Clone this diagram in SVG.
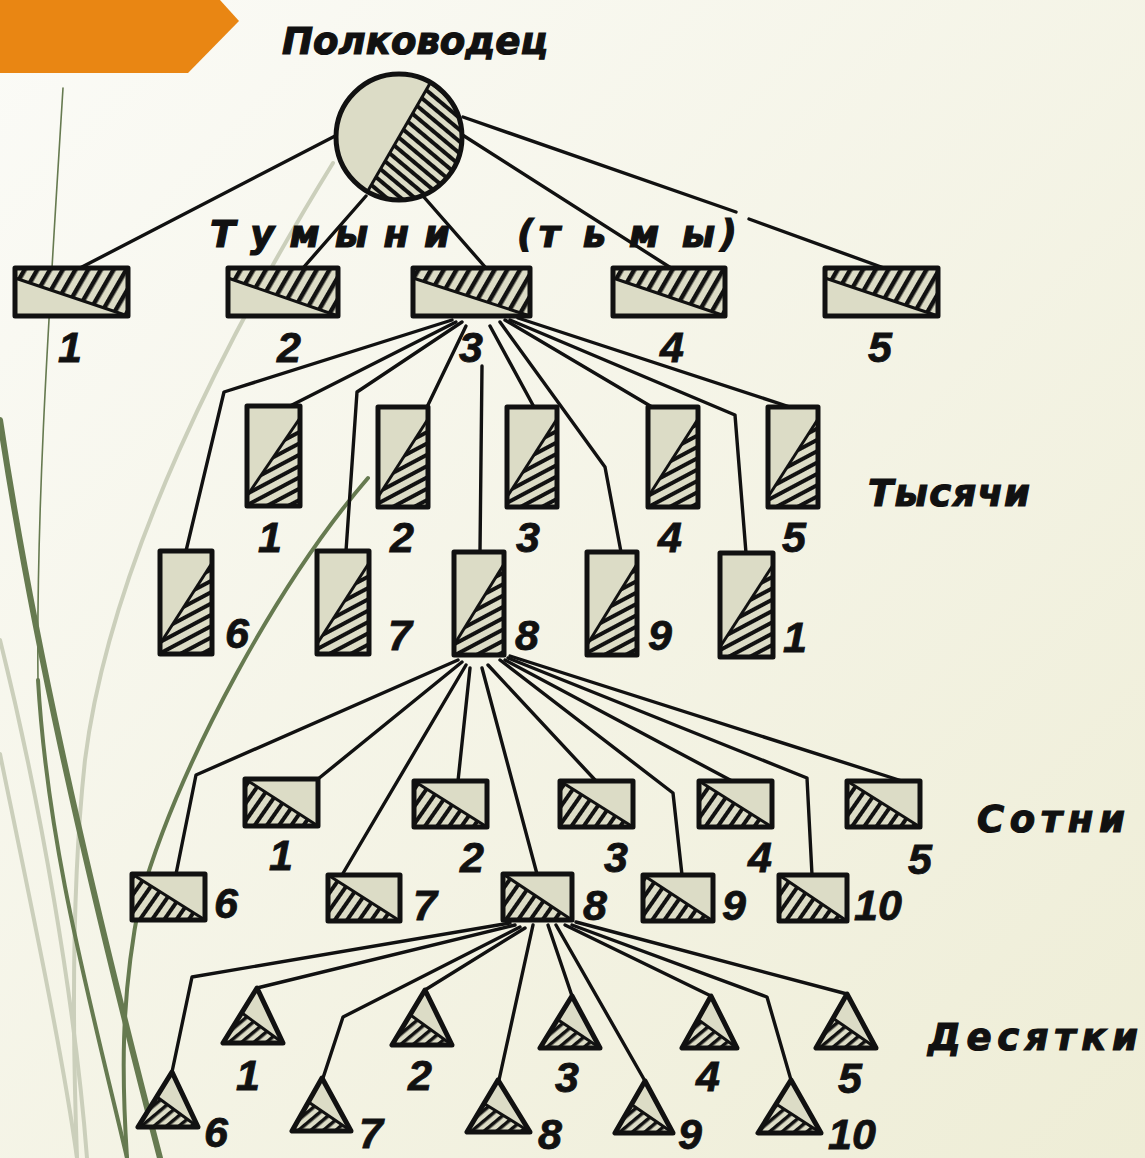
<svg xmlns="http://www.w3.org/2000/svg" width="1145" height="1158" viewBox="0 0 1145 1158">
<defs>
<linearGradient id="bg" x1="0" y1="0" x2="1" y2="1">
<stop offset="0" stop-color="#fbfbf7"/>
<stop offset="1" stop-color="#eeedd6"/>
</linearGradient>
<pattern id="hT" width="11" height="11" patternUnits="userSpaceOnUse" patternTransform="rotate(-60)"><rect width="11" height="11" fill="#dcdcc6"/><rect width="11" height="4.5" fill="#111"/></pattern>
<pattern id="hK" width="10" height="10" patternUnits="userSpaceOnUse" patternTransform="rotate(-28)"><rect width="10" height="10" fill="#dcdcc6"/><rect width="10" height="4" fill="#111"/></pattern>
<pattern id="hS" width="10" height="10" patternUnits="userSpaceOnUse" patternTransform="rotate(-55)"><rect width="10" height="10" fill="#dcdcc6"/><rect width="10" height="4" fill="#111"/></pattern>
<pattern id="hC" width="9" height="9" patternUnits="userSpaceOnUse" patternTransform="rotate(40)"><rect width="9" height="9" fill="#dcdcc6"/><rect width="9" height="4" fill="#111"/></pattern>
<pattern id="hD" width="8" height="8" patternUnits="userSpaceOnUse" patternTransform="rotate(-40)"><rect width="8" height="8" fill="#dcdcc6"/><rect width="8" height="3.5" fill="#111"/></pattern>
<style>
.lt{fill:#dcdcc6;stroke:none}
.bd{fill:none;stroke:#111;stroke-width:5;stroke-linejoin:round}
.dv{stroke:#111;stroke-width:3}
.cn polyline,.cn line{fill:none;stroke:#111;stroke-width:3.4;stroke-linejoin:round;stroke-linecap:round}
.t{font-family:"Liberation Sans","DejaVu Sans",sans-serif;font-weight:bold;font-style:italic;fill:#111;stroke:#111;stroke-width:0.8}
.n{font-size:43px;text-anchor:middle}
.lbl{font-family:"DejaVu Sans","Liberation Sans",sans-serif;font-size:37px;stroke-width:1.2}
.gd{fill:none;stroke:#667a50;stroke-linecap:round}
.gl{fill:none;stroke:#cbcfbb;stroke-linecap:round}
</style>
</defs>

<rect width="1145" height="1158" fill="url(#bg)"/>
<polygon points="0,0 220,0 239,21 188,73 0,73" fill="#e98613"/>

<g id="decor">
<path class="gl" stroke-width="4" d="M333,163 C230,330 110,560 85,760 C72,880 72,1020 77,1158"/>
<path class="gl" stroke-width="4" d="M0,640 C40,800 75,1000 87,1158"/>
<path class="gl" stroke-width="4" d="M0,754 C30,900 62,1050 77,1158"/>
<path class="gd" stroke-width="1.6" d="M63,88 C50,300 36,500 38,680"/>
<path class="gd" stroke-width="4" d="M38,680 C48,850 90,1000 127,1158"/>
<path class="gd" stroke-width="6" d="M0,420 C30,620 80,850 160,1158"/>
<path class="gd" stroke-width="4" d="M368,478 C280,580 180,760 140,900 C120,1000 122,1080 127,1158"/>
</g>

<g id="connectors" class="cn">
<line x1="337" y1="135" x2="80" y2="268"/>
<line x1="366" y1="196" x2="303" y2="268"/>
<line x1="423" y1="196" x2="486" y2="268"/>
<line x1="461" y1="134" x2="671" y2="268"/>
<line x1="463" y1="117" x2="736" y2="212"/>
<line x1="749" y1="219" x2="884" y2="268"/>

<polyline points="452,320 224,392 186,551"/>
<line x1="456" y1="322" x2="290" y2="406"/>
<polyline points="462,322 357,392 346,551"/>
<line x1="466" y1="326" x2="427" y2="407"/>
<line x1="482" y1="366" x2="480" y2="552"/>
<line x1="490" y1="326" x2="534" y2="407"/>
<polyline points="500,322 605,467 621,552"/>
<line x1="505" y1="320" x2="652" y2="407"/>
<polyline points="510,320 735,415 746,553"/>
<line x1="518" y1="318" x2="790" y2="407"/>

<polyline points="458,660 196,775 176,874"/>
<line x1="462" y1="662" x2="318" y2="779"/>
<line x1="466" y1="665" x2="342" y2="875"/>
<line x1="470" y1="668" x2="458" y2="781"/>
<line x1="482" y1="668" x2="537" y2="874"/>
<line x1="488" y1="665" x2="596" y2="781"/>
<polyline points="500,660 673,793 682,875"/>
<line x1="505" y1="660" x2="732" y2="781"/>
<polyline points="508,658 807,778 812,875"/>
<line x1="510" y1="656" x2="902" y2="781"/>

<polyline points="510,923 192,977 172,1072"/>
<line x1="515" y1="925" x2="257" y2="988"/>
<polyline points="520,927 343,1017 323,1078"/>
<line x1="525" y1="928" x2="425" y2="990"/>
<line x1="533" y1="925" x2="499" y2="1080"/>
<line x1="548" y1="925" x2="572" y2="996"/>
<line x1="556" y1="925" x2="645" y2="1081"/>
<line x1="565" y1="925" x2="711" y2="996"/>
<polyline points="572,925 767,997 791,1080"/>
<line x1="576" y1="922" x2="847" y2="994"/>
</g>

<g id="commander">
<circle cx="399" cy="137" r="63" class="lt"/>
<path d="M430.5,82.4 A63,63 0 0 1 367.5,191.6 Z" fill="url(#hC)"/>
<line x1="430.5" y1="82.4" x2="367.5" y2="191.6" class="dv"/>
<circle cx="399" cy="137" r="63" class="bd"/>
<text class="t lbl" x="282" y="54" textLength="266" lengthAdjust="spacingAndGlyphs">Полководец</text>
</g>

<g id="tumen-label">
<text class="t lbl" x="210" y="247" textLength="240" lengthAdjust="spacing">Т у м ы н и</text>
<text class="t lbl" x="517" y="247" textLength="220" lengthAdjust="spacing">(т ь м ы)</text>
</g>

<g id="tumen-1"><rect x="15" y="268" width="113" height="48" class="lt"/><polygon points="15,268 128,268 128,316 15,278" fill="url(#hT)"/><line x1="15" y1="278" x2="128" y2="316" class="dv"/><rect x="15" y="268" width="113" height="48" class="bd"/><text class="t n" x="70" y="362">1</text></g>
<g id="tumen-2"><rect x="228" y="268" width="110" height="48" class="lt"/><polygon points="228,268 338,268 338,316 228,278" fill="url(#hT)"/><line x1="228" y1="278" x2="338" y2="316" class="dv"/><rect x="228" y="268" width="110" height="48" class="bd"/><text class="t n" x="289" y="362">2</text></g>
<g id="tumen-3"><rect x="413" y="268" width="117" height="48" class="lt"/><polygon points="413,268 530,268 530,316 413,278" fill="url(#hT)"/><line x1="413" y1="278" x2="530" y2="316" class="dv"/><rect x="413" y="268" width="117" height="48" class="bd"/><text class="t n" x="471" y="362">3</text></g>
<g id="tumen-4"><rect x="613" y="268" width="112" height="48" class="lt"/><polygon points="613,268 725,268 725,316 613,278" fill="url(#hT)"/><line x1="613" y1="278" x2="725" y2="316" class="dv"/><rect x="613" y="268" width="112" height="48" class="bd"/><text class="t n" x="672" y="362">4</text></g>
<g id="tumen-5"><rect x="825" y="268" width="113" height="48" class="lt"/><polygon points="825,268 938,268 938,316 825,278" fill="url(#hT)"/><line x1="825" y1="278" x2="938" y2="316" class="dv"/><rect x="825" y="268" width="113" height="48" class="bd"/><text class="t n" x="880" y="362">5</text></g>

<text class="t lbl" x="868" y="506" textLength="162" lengthAdjust="spacing">Тысячи</text>

<g id="thousand-1"><rect x="247" y="406" width="53" height="100" class="lt"/><polygon points="300,418 300,506 247,506 247,496" fill="url(#hK)"/><line x1="300" y1="418" x2="247" y2="496" class="dv"/><rect x="247" y="406" width="53" height="100" class="bd"/><text class="t n" x="270" y="552">1</text></g>
<g id="thousand-2"><rect x="378" y="407" width="50" height="100" class="lt"/><polygon points="428,419 428,507 378,507 378,497" fill="url(#hK)"/><line x1="428" y1="419" x2="378" y2="497" class="dv"/><rect x="378" y="407" width="50" height="100" class="bd"/><text class="t n" x="402" y="552">2</text></g>
<g id="thousand-3"><rect x="507" y="407" width="50" height="100" class="lt"/><polygon points="557,419 557,507 507,507 507,497" fill="url(#hK)"/><line x1="557" y1="419" x2="507" y2="497" class="dv"/><rect x="507" y="407" width="50" height="100" class="bd"/><text class="t n" x="528" y="552">3</text></g>
<g id="thousand-4"><rect x="648" y="407" width="50" height="100" class="lt"/><polygon points="698,419 698,507 648,507 648,497" fill="url(#hK)"/><line x1="698" y1="419" x2="648" y2="497" class="dv"/><rect x="648" y="407" width="50" height="100" class="bd"/><text class="t n" x="670" y="552">4</text></g>
<g id="thousand-5"><rect x="768" y="407" width="50" height="100" class="lt"/><polygon points="818,419 818,507 768,507 768,497" fill="url(#hK)"/><line x1="818" y1="419" x2="768" y2="497" class="dv"/><rect x="768" y="407" width="50" height="100" class="bd"/><text class="t n" x="794" y="552">5</text></g>
<g id="thousand-6"><rect x="160" y="551" width="52" height="103" class="lt"/><polygon points="212,563 212,654 160,654 160,644" fill="url(#hK)"/><line x1="212" y1="563" x2="160" y2="644" class="dv"/><rect x="160" y="551" width="52" height="103" class="bd"/><text class="t n" x="237" y="648">6</text></g>
<g id="thousand-7"><rect x="317" y="551" width="52" height="103" class="lt"/><polygon points="369,563 369,654 317,654 317,644" fill="url(#hK)"/><line x1="369" y1="563" x2="317" y2="644" class="dv"/><rect x="317" y="551" width="52" height="103" class="bd"/><text class="t n" x="400" y="650">7</text></g>
<g id="thousand-8"><rect x="454" y="552" width="50" height="103" class="lt"/><polygon points="504,564 504,655 454,655 454,645" fill="url(#hK)"/><line x1="504" y1="564" x2="454" y2="645" class="dv"/><rect x="454" y="552" width="50" height="103" class="bd"/><text class="t n" x="527" y="650">8</text></g>
<g id="thousand-9"><rect x="587" y="552" width="50" height="103" class="lt"/><polygon points="637,564 637,655 587,655 587,645" fill="url(#hK)"/><line x1="637" y1="564" x2="587" y2="645" class="dv"/><rect x="587" y="552" width="50" height="103" class="bd"/><text class="t n" x="660" y="650">9</text></g>
<g id="thousand-10"><rect x="720" y="553" width="53" height="104" class="lt"/><polygon points="773,565 773,657 720,657 720,647" fill="url(#hK)"/><line x1="773" y1="565" x2="720" y2="647" class="dv"/><rect x="720" y="553" width="53" height="104" class="bd"/><text class="t n" x="795" y="652">1</text></g>

<text class="t lbl" x="977" y="832" textLength="148" lengthAdjust="spacing">Сотни</text>

<g id="hundred-1"><rect x="245" y="779" width="73" height="47" class="lt"/><polygon points="245,779 245,826 318,826" fill="url(#hS)"/><line x1="245" y1="779" x2="318" y2="826" class="dv"/><rect x="245" y="779" width="73" height="47" class="bd"/><text class="t n" x="281" y="870">1</text></g>
<g id="hundred-2"><rect x="414" y="781" width="73" height="46" class="lt"/><polygon points="414,781 414,827 487,827" fill="url(#hS)"/><line x1="414" y1="781" x2="487" y2="827" class="dv"/><rect x="414" y="781" width="73" height="46" class="bd"/><text class="t n" x="472" y="872">2</text></g>
<g id="hundred-3"><rect x="560" y="781" width="73" height="46" class="lt"/><polygon points="560,781 560,827 633,827" fill="url(#hS)"/><line x1="560" y1="781" x2="633" y2="827" class="dv"/><rect x="560" y="781" width="73" height="46" class="bd"/><text class="t n" x="616" y="872">3</text></g>
<g id="hundred-4"><rect x="699" y="781" width="73" height="46" class="lt"/><polygon points="699,781 699,827 772,827" fill="url(#hS)"/><line x1="699" y1="781" x2="772" y2="827" class="dv"/><rect x="699" y="781" width="73" height="46" class="bd"/><text class="t n" x="760" y="872">4</text></g>
<g id="hundred-5"><rect x="847" y="781" width="73" height="46" class="lt"/><polygon points="847,781 847,827 920,827" fill="url(#hS)"/><line x1="847" y1="781" x2="920" y2="827" class="dv"/><rect x="847" y="781" width="73" height="46" class="bd"/><text class="t n" x="920" y="874">5</text></g>
<g id="hundred-6"><rect x="132" y="874" width="73" height="46" class="lt"/><polygon points="132,874 132,920 205,920" fill="url(#hS)"/><line x1="132" y1="874" x2="205" y2="920" class="dv"/><rect x="132" y="874" width="73" height="46" class="bd"/><text class="t n" x="226" y="918">6</text></g>
<g id="hundred-7"><rect x="328" y="875" width="72" height="46" class="lt"/><polygon points="328,875 328,921 400,921" fill="url(#hS)"/><line x1="328" y1="875" x2="400" y2="921" class="dv"/><rect x="328" y="875" width="72" height="46" class="bd"/><text class="t n" x="425" y="920">7</text></g>
<g id="hundred-8"><rect x="503" y="874" width="69" height="46" class="lt"/><polygon points="503,874 503,920 572,920" fill="url(#hS)"/><line x1="503" y1="874" x2="572" y2="920" class="dv"/><rect x="503" y="874" width="69" height="46" class="bd"/><text class="t n" x="595" y="920">8</text></g>
<g id="hundred-9"><rect x="643" y="875" width="70" height="46" class="lt"/><polygon points="643,875 643,921 713,921" fill="url(#hS)"/><line x1="643" y1="875" x2="713" y2="921" class="dv"/><rect x="643" y="875" width="70" height="46" class="bd"/><text class="t n" x="734" y="920">9</text></g>
<g id="hundred-10"><rect x="779" y="875" width="68" height="46" class="lt"/><polygon points="779,875 779,921 847,921" fill="url(#hS)"/><line x1="779" y1="875" x2="847" y2="921" class="dv"/><rect x="779" y="875" width="68" height="46" class="bd"/><text class="t n" x="878" y="920">10</text></g>

<text class="t lbl" x="928" y="1050" textLength="210" lengthAdjust="spacing">Десятки</text>

<g id="ten-1"><polygon points="257,988 223,1043 283,1043" class="lt"/><polygon points="241.7,1012.8 223,1043 283,1043" fill="url(#hD)"/><line x1="241.7" y1="1012.8" x2="283" y2="1043" class="dv"/><polygon points="257,988 223,1043 283,1043" class="bd"/><text class="t n" x="248" y="1090">1</text></g>
<g id="ten-2"><polygon points="425,990 392,1045 452,1045" class="lt"/><polygon points="410.2,1014.8 392,1045 452,1045" fill="url(#hD)"/><line x1="410.2" y1="1014.8" x2="452" y2="1045" class="dv"/><polygon points="425,990 392,1045 452,1045" class="bd"/><text class="t n" x="420" y="1090">2</text></g>
<g id="ten-3"><polygon points="572,996 540,1048 600,1048" class="lt"/><polygon points="557.6,1019.4 540,1048 600,1048" fill="url(#hD)"/><line x1="557.6" y1="1019.4" x2="600" y2="1048" class="dv"/><polygon points="572,996 540,1048 600,1048" class="bd"/><text class="t n" x="567" y="1092">3</text></g>
<g id="ten-4"><polygon points="711,996 682,1048 737,1048" class="lt"/><polygon points="698,1019.4 682,1048 737,1048" fill="url(#hD)"/><line x1="698" y1="1019.4" x2="737" y2="1048" class="dv"/><polygon points="711,996 682,1048 737,1048" class="bd"/><text class="t n" x="708" y="1091">4</text></g>
<g id="ten-5"><polygon points="847,994 816,1048 876,1048" class="lt"/><polygon points="833,1018.3 816,1048 876,1048" fill="url(#hD)"/><line x1="833" y1="1018.3" x2="876" y2="1048" class="dv"/><polygon points="847,994 816,1048 876,1048" class="bd"/><text class="t n" x="850" y="1093">5</text></g>
<g id="ten-6"><polygon points="172,1072 138,1127 198,1127" class="lt"/><polygon points="156.7,1096.8 138,1127 198,1127" fill="url(#hD)"/><line x1="156.7" y1="1096.8" x2="198" y2="1127" class="dv"/><polygon points="172,1072 138,1127 198,1127" class="bd"/><text class="t n" x="216" y="1147">6</text></g>
<g id="ten-7"><polygon points="322,1078 292,1131 351,1131" class="lt"/><polygon points="308.5,1101.9 292,1131 351,1131" fill="url(#hD)"/><line x1="308.5" y1="1101.9" x2="351" y2="1131" class="dv"/><polygon points="322,1078 292,1131 351,1131" class="bd"/><text class="t n" x="371" y="1148">7</text></g>
<g id="ten-8"><polygon points="498,1080 467,1132 530,1132" class="lt"/><polygon points="484,1103.4 467,1132 530,1132" fill="url(#hD)"/><line x1="484" y1="1103.4" x2="530" y2="1132" class="dv"/><polygon points="498,1080 467,1132 530,1132" class="bd"/><text class="t n" x="550" y="1149">8</text></g>
<g id="ten-9"><polygon points="645,1081 615,1133 673,1133" class="lt"/><polygon points="631.5,1104.4 615,1133 673,1133" fill="url(#hD)"/><line x1="631.5" y1="1104.4" x2="673" y2="1133" class="dv"/><polygon points="645,1081 615,1133 673,1133" class="bd"/><text class="t n" x="690" y="1149">9</text></g>
<g id="ten-10"><polygon points="791,1080 758,1133 821,1133" class="lt"/><polygon points="776.2,1103.9 758,1133 821,1133" fill="url(#hD)"/><line x1="776.2" y1="1103.9" x2="821" y2="1133" class="dv"/><polygon points="791,1080 758,1133 821,1133" class="bd"/><text class="t n" x="852" y="1149">10</text></g>
</svg>
